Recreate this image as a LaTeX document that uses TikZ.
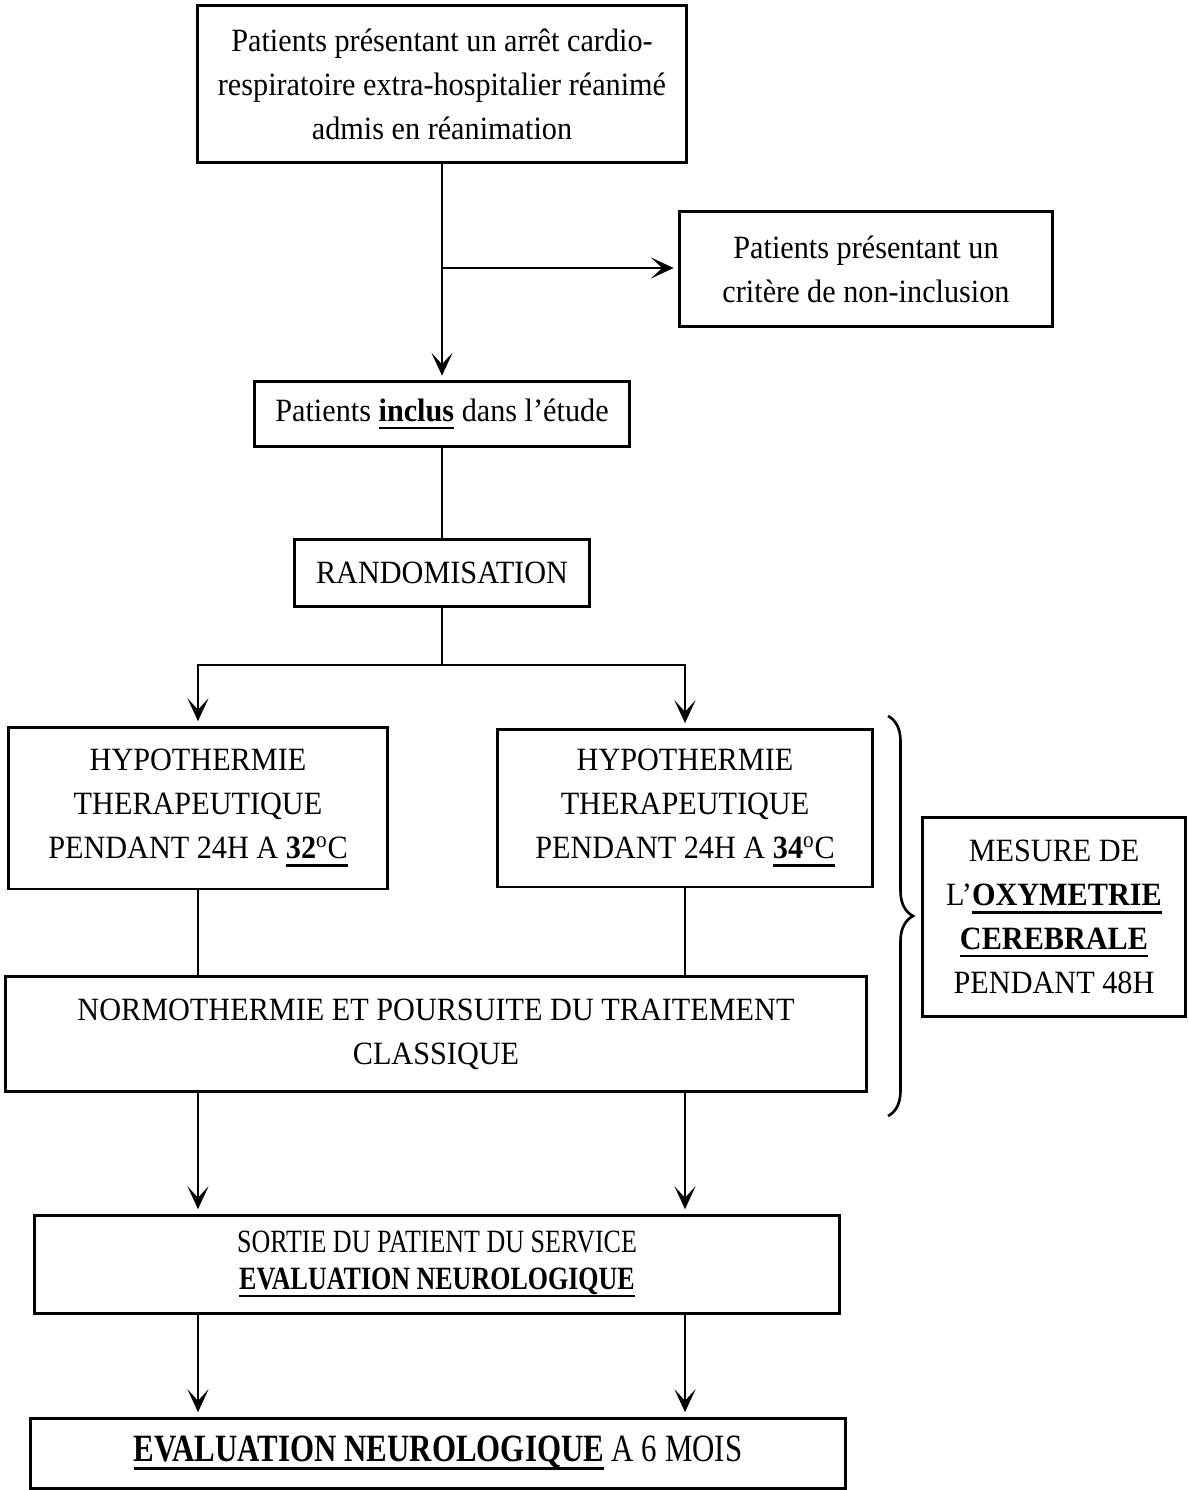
\documentclass[tikz,border=0pt]{standalone}
\usepackage{fontspec}
\setmainfont{Liberation Serif}[FakeStretch=0.93]
\newfontfamily\schmal{Liberation Serif}[FakeStretch=0.8]
\newcommand{\ustr}[1]{\leavevmode\setbox0=\hbox{#1}\rlap{\rule[-4.5pt]{\wd0}{1.5pt}}\box0\relax}
\usetikzlibrary{arrows.meta,decorations.pathreplacing}
\begin{document}
\begin{tikzpicture}[x=0.02cm,y=-0.02cm,line width=1.5pt,
		kasten/.style={draw,line width=1.7pt,align=center,inner sep=0pt,font=\fontsize{18.5}{25}\selectfont},
		pfeil/.style={-{Stealth[length=13pt,width=12pt,inset=6.5pt]},shorten >=2.5pt}]
		\useasboundingbox (0,0) rectangle (1188,1490);
		% Knoten
		\node (Pat) at (442,84) [kasten,minimum width=9.8cm,minimum height=3.16cm] {Patients présentant un arrêt cardio-\\respiratoire extra-hospitalier réanimé\\admis en réanimation};
		\node (Excl) at (866,269) [kasten,minimum width=7.46cm,minimum height=2.3cm] {Patients présentant un\\critère de non-inclusion};
		\node (Incl) at (442,414) [kasten,minimum width=7.5cm,minimum height=1.3cm] {Patients \ustr{\textbf{inclus}} dans l’étude};
		\node (Rand) at (442,573) [kasten,minimum width=5.9cm,minimum height=1.34cm] {RANDOMISATION};
		\node (Hyp32) at (198,808) [kasten,minimum width=7.6cm,minimum height=3.24cm] {HYPOTHERMIE\\THERAPEUTIQUE\\PENDANT 24H A \ustr{\textbf{32}\textsuperscript{o}C}};
		\node (Hyp34) at (685,808) [kasten,minimum width=7.52cm,minimum height=3.16cm] {HYPOTHERMIE\\THERAPEUTIQUE\\PENDANT 24H A \ustr{\textbf{34}\textsuperscript{o}C}};
		\node (Norm) at (436,1034) [kasten,minimum width=17.24cm,minimum height=2.3cm] {NORMOTHERMIE ET POURSUITE DU TRAITEMENT\\CLASSIQUE};
		\node (Oxy) at (1054,917) [kasten,minimum width=5.26cm,minimum height=4cm] {MESURE DE\\L’\ustr{\textbf{OXYMETRIE}}\\\ustr{\textbf{CEREBRALE}}\\PENDANT 48H};
		\node (Sort) at (437,1264) [kasten,minimum width=16.1cm,minimum height=1.96cm,font=\schmal\fontsize{18.5}{21}\selectfont] {SORTIE DU PATIENT DU SERVICE\\\ustr{\textbf{EVALUATION NEUROLOGIQUE}}};
		\node (Eval) at (438,1453) [kasten,minimum width=16.32cm,minimum height=1.4cm,font=\schmal\fontsize{22}{26}\selectfont] {\ustr{\textbf{EVALUATION NEUROLOGIQUE}} A 6 MOIS};

		% Kanten
		\coordinate (Abzw) at (442,268);
		\coordinate (Teil) at (442,665);
		\draw[pfeil] (Pat) -- (Incl);
		\draw[pfeil] (Abzw) -- (Abzw -| Excl.west);
		\draw (Incl) -- (Rand);
		\draw (Rand) -- (Teil);
		\draw[pfeil] (Teil) -| (Hyp32);
		\draw[pfeil] (Teil) -| (Hyp34);
		\draw (Hyp32) -- (Hyp32 |- Norm.north);
		\draw (Hyp34) -- (Hyp34 |- Norm.north);
		\draw[pfeil] (Hyp32 |- Norm.south) -- (Hyp32 |- Sort.north);
		\draw[pfeil] (Hyp34 |- Norm.south) -- (Hyp34 |- Sort.north);
		\draw[pfeil] (Hyp32 |- Sort.south) -- (Hyp32 |- Eval.north);
		\draw[pfeil] (Hyp34 |- Sort.south) -- (Hyp34 |- Eval.north);

		% Klammer
		\draw[decorate,decoration={brace,amplitude=0.5cm}] (888,716) -- (888,1116);
	\end{tikzpicture}
\end{document}
